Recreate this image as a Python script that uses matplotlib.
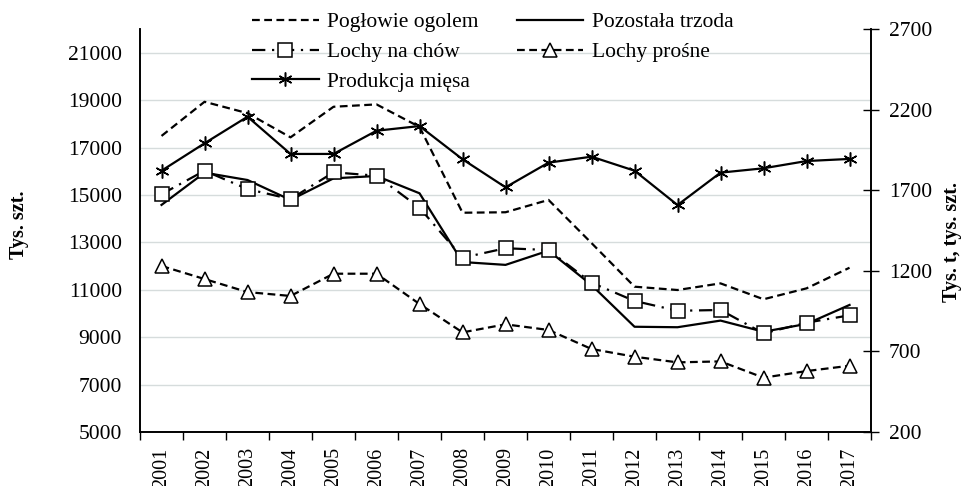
import matplotlib
matplotlib.use("Agg")
import matplotlib.pyplot as plt

plt.rcParams['font.family'] = ['Liberation Serif', 'DejaVu Serif']

years = ['2001', '2002', '2003', '2004', '2005', '2006', '2007', '2008', '2009',
         '2010', '2011', '2012', '2013', '2014', '2015', '2016', '2017']

# left axis (tys. szt.)
poglowie = [17490, 18930, 18450, 17430, 18720, 18820, 17870, 14250, 14270,
            14790, 12970, 11130, 10990, 11270, 10600, 11060, 11930]
pozostala = [14580, 15940, 15630, 14790, 15700, 15800, 15070, 12170, 12050,
             12650, 11200, 9440, 9420, 9700, 9230, 9560, 10360]

# right axis (tys. t, tys. szt.)
lochy_chow = [1675, 1821, 1707, 1645, 1811, 1790, 1591, 1281, 1340,
              1329, 1126, 1013, 952, 957, 812, 878, 924]
lochy_prosne = [1230, 1149, 1068, 1044, 1182, 1182, 994, 818, 868,
                833, 715, 667, 632, 638, 537, 578, 611]
produkcja = [1821, 1991, 2156, 1925, 1925, 2069, 2098, 1892, 1718,
             1871, 1908, 1821, 1608, 1809, 1836, 1881, 1894]

left_ticks = [5000, 7000, 9000, 11000, 13000, 15000, 17000, 19000, 21000]
right_ticks = [200, 700, 1200, 1700, 2200, 2700]

fig = plt.figure(figsize=(9.63, 4.86), dpi=100)
ax = fig.add_axes([0.1454, 0.1111, 0.7591, 0.8292])
ax2 = ax.twinx()

x = list(range(len(years)))
lw = 1.6
dash = (0, (3.5, 2))

l1, = ax.plot(x, poglowie, color='black', lw=lw, linestyle=dash, label='Pogłowie ogolem')
l2, = ax.plot(x, pozostala, color='black', lw=lw, linestyle='-', label='Pozostała trzoda')
l3, = ax2.plot(x, lochy_chow, color='black', lw=lw, linestyle=(0, (6, 3, 1, 3)),
               marker='s', markersize=10, markerfacecolor='white', markeredgecolor='black',
               markeredgewidth=1.1, label='Lochy na chów')
l4, = ax2.plot(x, lochy_prosne, color='black', lw=lw, linestyle=dash,
               marker='^', markersize=10, markerfacecolor='white', markeredgecolor='black',
               markeredgewidth=1.1, label='Lochy prośne')
l5, = ax2.plot(x, produkcja, color='black', lw=lw, linestyle='-',
               marker=(6, 2, 0), markersize=10, markeredgecolor='black',
               markeredgewidth=1.1, label='Produkcja mięsa')

ax.set_xlim(-0.5, len(years) - 0.5)
ax.set_ylim(5000, 22000)
ax2.set_ylim(200, 2700)

ax.set_yticks(left_ticks)
ax.set_yticklabels([str(v) for v in left_ticks])
ax2.set_yticks(right_ticks)
ax2.set_yticklabels([str(v) for v in right_ticks])

ax.set_xticks(x)
ax.set_xticklabels(years, rotation=90)
ax.set_xticks([i - 0.5 for i in range(len(years) + 1)], minor=True)
ax.tick_params(axis='x', which='major', length=0, labelsize=14.5, pad=11)
ax.tick_params(axis='x', which='minor', length=6, width=1, direction='out')
ax.tick_params(axis='y', length=0, labelsize=15.5, pad=13)
ax2.tick_params(axis='y', length=12, width=1, direction='inout', labelsize=15.5, pad=7)

ax.yaxis.grid(True, color='#d6dcdc', lw=1)
ax.set_axisbelow(True)

for a in (ax, ax2):
    a.spines['top'].set_visible(False)
    for s in ('left', 'right', 'bottom'):
        a.spines[s].set_linewidth(1.2)

ax.set_ylabel('Tys. szt.', fontsize=14.5, fontweight='bold')
ax.yaxis.set_label_coords(-0.152, 0.514)
ax2.set_ylabel('Tys. t, tys. szt.', fontsize=14.5, fontweight='bold')
ax2.yaxis.set_label_coords(1.097, 0.471)

fig.legend(handles=[l1, l3, l5, l2, l4], ncol=2, loc='upper left',
           bbox_to_anchor=(0.255, 0.988), frameon=False, fontsize=15.5,
           handlelength=3.1, handletextpad=0.4, columnspacing=1.75,
           labelspacing=0.45, borderpad=0.3, borderaxespad=0)

fig.savefig('out.png', dpi=100)
